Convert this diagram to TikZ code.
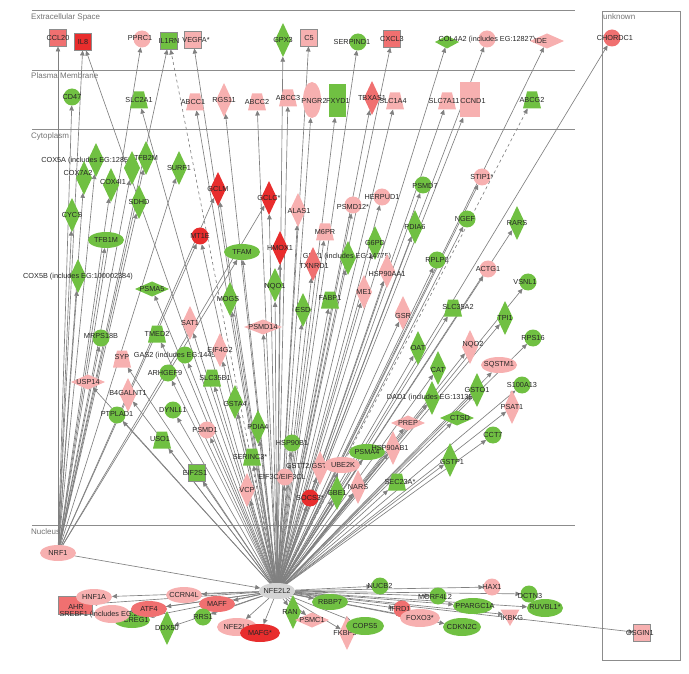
\documentclass[tikz,border=0pt]{standalone}
\usepackage{fontspec}
\setmainfont{Liberation Sans}
\usetikzlibrary{shapes.geometric,arrows.meta,backgrounds}
\definecolor{cR}{RGB}{232,45,45}
\definecolor{cM}{RGB}{240,112,112}
\definecolor{cP}{RGB}{247,176,176}
\definecolor{cG}{RGB}{112,192,66}
\definecolor{cY}{RGB}{212,212,212}
\definecolor{cL}{RGB}{128,128,128}
\newcommand\G[6][0,0]{\node[#2=#3] (#4) at (#5) {};\node[lbl,shift={(#1)}] at (#5) {#6};}
\begin{document}
\begin{tikzpicture}[x=1pt,y=-1pt,
  base/.style={inner sep=0pt,outer sep=0pt},
  circ/.style={base,circle,minimum size=17pt,fill=#1},
  ell/.style={base,ellipse,minimum width=36pt,minimum height=16pt,fill=#1},
  dia/.style={base,diamond,minimum width=16pt,minimum height=34pt,fill=#1},
  hdia/.style={base,diamond,minimum width=34pt,minimum height=15pt,fill=#1},
  sq/.style={base,rectangle,minimum size=17pt,draw=black!45,line width=0.4pt,fill=#1},
  tra/.style={base,rectangle,minimum width=18pt,minimum height=17pt,
    path picture={\fill[#1] (path picture bounding box.south west) -- (path picture bounding box.south east)
      -- ([xshift=-4pt]path picture bounding box.north east) -- ([xshift=4pt]path picture bounding box.north west) -- cycle;}},
  tri/.style={base,regular polygon,regular polygon sides=3,shape border rotate=180,minimum size=22pt,fill=#1},
  lbl/.style={inner sep=0pt,font=\fontsize{7.3}{8}\selectfont,text=black!85},
  sec/.style={inner sep=0pt,font=\fontsize{8}{9}\selectfont,text=black!55,anchor=west},
  secline/.style={draw=black!45,line width=0.6pt},
  edge/.style={draw=cL,line width=0.65pt,-{Triangle[length=5pt,width=4.5pt]}}]
\useasboundingbox (0,0) rectangle (689,674);
% compartments
\begin{pgfonlayer}{background}
\draw[secline] (32,10) -- (575,10);
\draw[secline] (32,70) -- (575,70);
\draw[secline] (32,129) -- (575,129);
\draw[secline] (32,525) -- (575,525);
\draw[secline] (602,11) rectangle (680,660);
\end{pgfonlayer}
\node[sec] at (31,17) {Extracellular Space};
\node[sec] at (31,76) {Plasma Membrane};
\node[sec] at (31,136) {Cytoplasm};
\node[sec] at (31,532) {Nucleus};
\node[sec] at (603,17) {unknown};
% extracellular
\G{sq}{cM}{ccl20}{58,38}{CCL20}
\G{sq}{cR}{il8}{83,42}{IL8}
\G[-2,-1]{circ}{cP}{pprc1}{142,39}{PPRC1}
\G{sq}{cG}{il1rn}{169,41}{IL1RN}
\G[3,0]{sq}{cP}{vegfa}{193,40}{VEGFA*}
\G{dia}{cG}{gpx3}{283,40}{GPX3}
\G{sq}{cP}{c5}{309,38}{C5}
\G[-6,0]{circ}{cG}{serpind1}{358,42}{SERPIND1}
\G{sq}{cM}{cxcl3}{392,39}{CXCL3}
\node[hdia=cG,minimum width=24pt,minimum height=13pt] (col4g) at (447,42) {};
\G[0,1]{circ}{cP}{col4a2}{487,39}{COL4A2 (includes EG:12827)}
\G[-6,0]{hdia}{cP}{ide}{547,41}{IDE}
\G[3,0]{circ}{cM}{chordc1}{612,38}{CHORDC1}
% plasma membrane
\G{circ}{cG}{cd47}{72,97}{CD47}
\G{tra}{cG}{slc2a1}{139,100}{SLC2A1}
\G[-2,0]{tra}{cP}{abcc1}{195,102}{ABCC1}
\G{dia}{cP}{rgs11}{224,100}{RGS11}
\G{tra}{cP}{abcc2}{257,102}{ABCC2}
\G{tra}{cP}{abcc3}{288,98}{ABCC3}
\node[ell=cP,minimum width=18pt,minimum height=36pt] (pngr) at (312,100) {};
\node[lbl] at (314,101) {PNGR2};
\node[sq=cG,draw=none,minimum width=17pt,minimum height=33pt] (fxyd1) at (337,101) {};
\node[lbl] at (338,101) {FXYD1};
\G{dia}{cM}{tbxas1}{372,98}{TBXAS1}
\G[-2,0]{tra}{cP}{slc1a4}{395,101}{SLC1A4}
\G[-3,0]{tra}{cP}{slc7a11}{447,101}{SLC7A11}
\node[sq=cP,draw=none,minimum width=20pt,minimum height=35pt] (ccnd1) at (470,100) {};
\node[lbl] at (473,101) {CCND1};
\G{tra}{cG}{abcg2}{532,100}{ABCG2}
% cytoplasm
\G[-8,1]{dia}{cG}{cox5a}{96,160}{COX5A (includes EG:12858)}
\node[dia=cG] (cox6) at (132,168) {};
\G{dia}{cG}{tfb2m}{146,158}{TFB2M}
\G[-6,-5]{dia}{cG}{cox7}{84,178}{COX7A2}
\G[2,-3]{dia}{cG}{cox4i1}{111,185}{COX4I1}
\G{dia}{cG}{surf1}{179,168}{SURF1}
\G{dia}{cG}{sdhd}{139,202}{SDHD}
\G{dia}{cG}{cycs}{72,215}{CYCS}
\G{ell}{cG}{tfb1m}{106,240}{TFB1M}
\G[0,1]{dia}{cG}{cox5b}{78,276}{COX5B (includes EG:100002384)}
\G{dia}{cR}{gclm}{218,189}{GCLM}
\G{dia}{cR}{gclc}{269,198}{GCLC*}
\G[1,1]{dia}{cP}{alas1}{298,210}{ALAS1}
\G{circ}{cR}{mt1e}{200,236}{MT1E}
\G{dia}{cR}{hmox1}{280,248}{HMOX1}
\G{ell}{cG}{tfam}{242,252}{TFAM}
\G{tra}{cP}{m6pr}{325,232}{M6PR}
\G[0,2]{circ}{cP}{psmd12}{353,205}{PSMD12*}
\G{circ}{cP}{herpud1}{382,197}{HERPUD1}
\G[2,1]{circ}{cG}{psmd7}{423,185}{PSMD7}
\G{circ}{cP}{stip1}{482,177}{STIP1*}
\G[-2,0]{circ}{cG}{ngef}{467,219}{NGEF}
\G{dia}{cG}{rars}{517,223}{RARS}
\G{dia}{cG}{pdia6}{415,227}{PDIA6}
\G{dia}{cG}{g6pd}{375,243}{G6PD}
\G[-1,-1]{dia}{cG}{gpx1}{348,258}{GPX1 (includes EG:14775)}
\G[1,2]{dia}{cM}{txnrd1}{313,264}{TXNRD1}
\G[0,3]{dia}{cP}{hsp90aa1}{387,271}{HSP90AA1}
\G{circ}{cG}{rplp0}{437,260}{RPLP0}
\G{circ}{cP}{actg1}{488,269}{ACTG1}
\G[-3,0]{circ}{cG}{vsnl1}{528,282}{VSNL1}
\G[0,2]{dia}{cG}{nqo1}{275,285}{NQO1}
\G[0,-2]{tra}{cG}{fabp1}{330,300}{FABP1}
\G{dia}{cP}{me1}{364,292}{ME1}
\G{dia}{cG}{esd}{303,310}{ESD}
\G[0,3]{dia}{cP}{gsr}{403,313}{GSR}
\G[5,-1]{tra}{cG}{slc35a2}{453,308}{SLC35A2}
\G{dia}{cG}{tpi1}{505,318}{TPI1}
\G{circ}{cG}{rps16}{533,338}{RPS16}
\G{hdia}{cG}{psma5}{152,289}{PSMA5}
\G[-2,0]{dia}{cG}{mogs}{230,299}{MOGS}
\node[hdia=cP,minimum width=38pt] (psmd14) at (263,327) {};
\node[lbl] at (263,327) {PSMD14};
\G{dia}{cP}{sat1}{190,323}{SAT1}
\G{tra}{cG}{tmed2}{157,334}{TMED2}
\G[0,-2]{circ}{cG}{mrps18b}{101,338}{MRPS18B}
\G[0,-2]{tra}{cP}{syp}{122,359}{SYP}
\G[-7,1]{circ}{cG}{gas2}{185,355}{GAS2 (includes EG:14453)}
\G{dia}{cP}{eif4}{220,350}{EIF4G2}
\G[-3,0]{circ}{cG}{arhgef9}{168,373}{ARHGEF9}
\G[3,0]{tra}{cG}{slc35b1}{212,378}{SLC35B1}
\G{hdia}{cP}{usp14}{88,382}{USP14}
\G[0,-2]{dia}{cP}{b4galnt1}{128,395}{B4GALNT1}
\G[0,2]{dia}{cG}{gsta4}{235,402}{GSTA4}
\G{circ}{cG}{dynll1}{173,410}{DYNLL1}
\G[0,-1]{circ}{cG}{ptplad1}{117,415}{PTPLAD1}
\G[-2,0]{circ}{cP}{psmd1}{207,430}{PSMD1}
\G{dia}{cG}{pdia4}{258,427}{PDIA4}
\G[-2,-1]{tra}{cG}{uso1}{162,440}{USO1}
\G{circ}{cG}{hsp90b1}{292,443}{HSP90B1}
\G[-2,0]{sq}{cG}{eif2s1}{197,473}{EIF2S1}
\G[-2,0]{tra}{cG}{serinc3}{252,457}{SERINC3*}
\G[-3,0]{circ}{cP}{eif3c}{285,477}{EIF3C/EIF3CL}
\G{dia}{cP}{vcp}{247,490}{VCP}
\G[-7,-2]{dia}{cP}{gstt2}{320,468}{GSTT2/GSTT2B}
\G[1,0]{ell}{cP}{ube2k}{342,465}{UBE2K}
\G{circ}{cR}{socs3}{310,498}{SOCS3*}
\G{dia}{cG}{gbe1}{337,493}{GBE1}
\G{dia}{cP}{nars}{358,487}{NARS}
\G{ell}{cG}{psma4}{367,452}{PSMA4}
\G[-3,0]{dia}{cP}{hsp90ab1}{393,448}{HSP90AB1}
\G[3,0]{tra}{cG}{sec23a}{397,482}{SEC23A*}
\G{hdia}{cP}{prep}{408,423}{PREP}
\G[-1,0]{dia}{cG}{dad1}{432,398}{DAD1 (includes EG:13135)}
\G{dia}{cG}{oat}{418,348}{OAT}
\G[0,2]{dia}{cG}{cat}{438,368}{CAT}
\G[3,0]{hdia}{cG}{ctsd}{457,418}{CTSD}
\G[2,2]{dia}{cG}{gstp1}{450,460}{GSTP1}
\G{circ}{cG}{cct7}{493,435}{CCT7}
\G{dia}{cP}{psat1}{512,407}{PSAT1}
\G{circ}{cG}{s100a13}{522,385}{S100A13}
\G{dia}{cG}{gsto1}{477,390}{GSTO1}
\G{ell}{cP}{sqstm1}{499,365}{SQSTM1}
\G[3,-2]{dia}{cP}{nqo2}{470,347}{NQO2}
% nucleus
\G{ell}{cP}{nrf1}{58,553}{NRF1}
\G{ell}{cY}{nfe}{277,591}{NFE2L2}
\node[sq=cM,minimum width=34pt,minimum height=18pt] (ahr) at (75,605) {};
\node[lbl] at (76,607) {AHR};
\G{ell}{cP}{hnf1a}{94,597}{HNF1A}
\G[4,0]{ell}{cG}{creg1}{132,620}{CREG1}
\node[ell=cP,minimum height=18pt] (srebf1) at (112,614) {};
\node[lbl] at (108,615) {SREBF1 (includes EG:20787)};
\G{ell}{cM}{atf4}{149,609}{ATF4}
\G{ell}{cP}{ccrn4l}{184,595}{CCRN4L}
\G{ell}{cM}{maff}{217,604}{MAFF}
\G{dia}{cG}{ddx50}{167,628}{DDX50}
\G{circ}{cG}{rrs1}{203,617}{RRS1}
\node[ell=cP,minimum width=40pt,minimum height=18pt] (nfe2l1) at (237,627) {};
\node[lbl] at (237,627) {NFE2L1};
\node[ell=cR,minimum width=40pt,minimum height=18pt] (mafg) at (260,633) {};
\node[lbl] at (260,633) {MAFG*};
\G[-3,0]{dia}{cG}{ran}{293,612}{RAN}
\G{hdia}{cP}{psmc1}{312,620}{PSMC1}
\G{ell}{cG}{rbbp7}{330,602}{RBBP7}
\G[-2,0]{dia}{cP}{fkbp5}{347,633}{FKBP5}
\node[ell=cG,minimum width=38pt,minimum height=18pt] (cops5) at (365,626) {};
\node[lbl] at (365,626) {COPS5};
\G{circ}{cG}{nucb2}{380,586}{NUCB2}
\G[-2,0]{circ}{cM}{ifrd1}{402,609}{IFRD1}
\node[ell=cP,minimum width=40pt,minimum height=18pt] (foxo3) at (420,618) {};
\node[lbl] at (420,618) {FOXO3*};
\G[-3,1]{circ}{cG}{morf4l2}{438,596}{MORF4L2}
\node[ell=cG,minimum width=38pt,minimum height=18pt] (cdkn2c) at (462,627) {};
\node[lbl] at (462,627) {CDKN2C};
\node[ell=cG,minimum width=40pt] (pparg) at (473,606) {};
\node[lbl] at (475,606) {PPARGC1A};
\G{circ}{cP}{hax1}{492,587}{HAX1}
\G[1,2]{circ}{cG}{dctn3}{529,594}{DCTN3}
\node[ell=cG,minimum height=18pt] (ruvbl1) at (545,608) {};
\node[lbl] at (545,607) {RUVBL1*};
\G[2,3]{tri}{cP}{ikbkg}{510,615}{IKBKG}
\G[-2,0]{sq}{cP}{osgin1}{642,633}{OSGIN1}
% edges
\begin{pgfonlayer}{background}
\foreach \t in {ccl20,il8,cd47,pprc1,il1rn,cox5a,tfb2m,cox6,cox7,cox4i1,surf1,sdhd,cycs,tfb1m,cox5b,mrps18b,tfam,mt1e,gclm,gclc,nfe}
  \draw[edge] (nrf1) -- (\t);
\foreach \t in {il8,vegfa,gpx3,c5,serpind1,cxcl3,col4g,col4a2,ide,chordc1,
  slc2a1,abcc1,rgs11,abcc2,abcc3,pngr,fxyd1,tbxas1,slc1a4,slc7a11,ccnd1,
  gclm,gclc,alas1,hmox1,m6pr,psmd12,herpud1,psmd7,stip1,ngef,rars,pdia6,g6pd,gpx1,
  txnrd1,hsp90aa1,rplp0,actg1,vsnl1,nqo1,fabp1,me1,esd,gsr,slc35a2,tpi1,rps16,
  psma5,mogs,psmd14,sat1,tmed2,syp,gas2,eif4,arhgef9,slc35b1,usp14,b4galnt1,gsta4,
  dynll1,ptplad1,psmd1,pdia4,uso1,hsp90b1,eif2s1,serinc3,eif3c,vcp,gstt2,ube2k,
  socs3,gbe1,nars,psma4,hsp90ab1,sec23a,prep,dad1,oat,cat,ctsd,gstp1,cct7,psat1,
  s100a13,gsto1,sqstm1,nqo2,mt1e,tfam,
  hnf1a,ahr,srebf1,creg1,atf4,ccrn4l,maff,ddx50,rrs1,nfe2l1,mafg,ran,psmc1,rbbp7,
  fkbp5,cops5,nucb2,ifrd1,foxo3,morf4l2,cdkn2c,pparg,hax1,dctn3,ruvbl1,ikbkg,osgin1}
  \draw[edge] (nfe) -- (\t);
\draw[edge,dashed] (nfe) -- (il1rn);
\draw[edge,dashed] (nfe) -- (abcg2);
\end{pgfonlayer}
\end{tikzpicture}
\end{document}
